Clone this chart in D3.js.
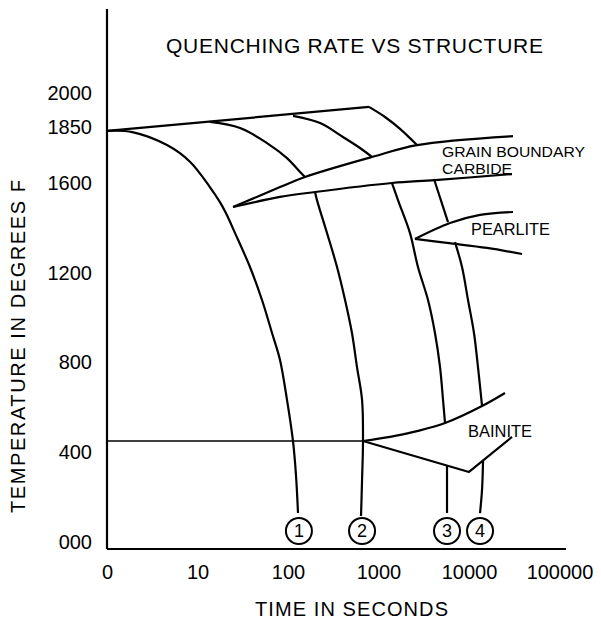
<!DOCTYPE html>
<html>
<head>
<meta charset="utf-8">
<script src="https://cdn.jsdelivr.net/npm/d3@7"></script>
<style>
  html, body { margin: 0; padding: 0; background: #fff; }
  svg { display: block; }
  text { font-family: "Liberation Sans", Arial, sans-serif; fill: #000; }
</style>
</head>
<body>
<div id="chart"></div>
<script>
// ---------- DATA (time in seconds, temperature in °F) ----------
const title = "QUENCHING RATE VS STRUCTURE";
const xTitle = "TIME IN SECONDS";
const yTitle = "TEMPERATURE IN DEGREES F";

const xTicks = [1, 10, 100, 1000, 10000, 100000];
const xTickLabels = ["0", "10", "100", "1000", "10000", "100000"];
const yTicks = [0, 400, 800, 1200, 1600, 1850, 2000];
const yTickLabels = ["000", "400", "800", "1200", "1600", "1850", "2000"];

// heating / austenitizing line
const heatingLine = [[1, 1831], [785, 1938]];

// cooling curve 1
const curve1 = [[1, 1831], [1.9, 1826], [4.6, 1768], [8.3, 1693], [13.7, 1581], [17.7, 1514],
  [20.6, 1465], [26, 1376], [38, 1225], [51.6, 1078], [66.6, 931], [81.6, 811],
  [97.5, 633], [113.5, 450], [122.5, 298], [129, 129]];
// cooling curve 2 (interrupted by grain boundary carbide band)
const curve2a = [[13.7, 1871], [29.5, 1844], [58.6, 1777], [97.5, 1710], [136, 1648], [154, 1626]];
const curve2b = [[199, 1559], [209, 1523], [270, 1376], [348, 1225], [427, 1078], [509, 931],
  [578, 780], [658, 633], [674, 450], [658, 276], [641, 116]];
// cooling curve 3
const curve3a = [[113.5, 1898], [226, 1866], [405, 1804], [625, 1755], [847, 1715]];
const curve3b = [[1410, 1599], [1641, 1523], [2228, 1376], [2729, 1225], [3524, 1078],
  [4207, 931], [4782, 780], [5164, 633], [5433, 530]];
const curve3c = [[5715, 343], [5715, 129]];
// cooling curve 4
const curve4a = [[785, 1938], [1180, 1893], [1730, 1840], [2662, 1768]];
const curve4b = [[4104, 1617], [5861, 1425]];
const curve4c = [[7000, 1336], [8372, 1225], [9750, 1078], [11350, 931], [12560, 780], [13930, 606]];
const curve4d = [[14290, 361], [13930, 232], [13240, 129]];

// transformation regions
const gbUpper = [[24.7, 1492], [81.6, 1581], [154, 1626], [847, 1715], [2662, 1768], [30620, 1808]];
const gbLower = [[24.7, 1492], [81.6, 1537], [199, 1559], [1410, 1599], [4207, 1612], [29860, 1639]];
const pearliteUpper = [[2530, 1350], [6166, 1421], [13240, 1457], [30620, 1470]];
const pearliteLower = [[2530, 1350], [5715, 1332], [15810, 1310], [38550, 1283]];
const msLine = [[1, 450], [674, 450]];
const bainiteUpper = [[674, 450], [1340, 468], [2662, 494], [5433, 530], [13930, 606], [24990, 664]];
const bainiteLower = [[674, 450], [10000, 312], [29860, 468]];

// curve number markers
const markerLabels = ["1", "2", "3", "4"];
const markerTimes = [132, 658, 5715, 13240];
const markerTemp = 49;

// region labels: text, time, temp (left anchor)
const regionText = ["GRAIN BOUNDARY", "CARBIDE", "PEARLITE", "BAINITE"];
const regionTime = [5035, 5035, 10520, 9750];
const regionTemp = [1741, 1662, 1394, 494];

// ---------- DRAW ----------
const W = 601, H = 623;
const svg = d3.select("#chart").append("svg").attr("width", W).attr("height", H);

const x = d3.scaleLog().domain([1, 100000]).range([107, 559.5]);
const y = d3.scaleLinear().domain([0, 2000]).range([542, 93]);
const axisY = 549, axisTop = 9, axisRight = 566;
const LW = 2.2;

// axis lines
svg.append("line").attr("x1", x(1)).attr("x2", x(1)).attr("y1", axisTop).attr("y2", axisY)
  .attr("stroke", "#000").attr("stroke-width", LW);
svg.append("line").attr("x1", x(1)).attr("x2", axisRight).attr("y1", axisY).attr("y2", axisY)
  .attr("stroke", "#000").attr("stroke-width", LW);

// tick labels via axes
const xAxis = d3.axisBottom(x).tickValues(xTicks).tickSize(0).tickPadding(16)
  .tickFormat((d, i) => xTickLabels[i]);
const gx = svg.append("g").attr("transform", `translate(0,${axisY})`).call(xAxis);
gx.select(".domain").remove();
gx.selectAll("text").style("font-size", "20px").style("font-family", "Liberation Sans, Arial, sans-serif");

const yAxis = d3.axisLeft(y).tickValues(yTicks).tickSize(0).tickPadding(15)
  .tickFormat((d, i) => yTickLabels[i]);
const gy = svg.append("g").attr("transform", `translate(${x(1)},0)`).call(yAxis);
gy.select(".domain").remove();
gy.selectAll("text").style("font-size", "20px").style("font-family", "Liberation Sans, Arial, sans-serif");

// lines
const smooth = d3.line().x(d => x(d[0])).y(d => y(d[1])).curve(d3.curveCatmullRom.alpha(0.5));
const straight = d3.line().x(d => x(d[0])).y(d => y(d[1]));

function draw(data, gen, w) {
  svg.append("path").attr("d", gen(data)).attr("fill", "none")
    .attr("stroke", "#000").attr("stroke-width", w || LW).attr("stroke-linejoin", "round");
}
draw(heatingLine, straight);
[curve1, curve2a, curve2b, curve3a, curve3b, curve4a, curve4c].forEach(c => draw(c, smooth));
[curve3c, curve4b, curve4d].forEach(c => draw(c, smooth));
[gbUpper, gbLower, pearliteUpper, pearliteLower, bainiteUpper].forEach(c => draw(c, smooth));
draw(msLine, straight, 1.7);
draw(bainiteLower, straight);

// markers
markerLabels.forEach((lab, i) => {
  svg.append("circle").attr("cx", x(markerTimes[i])).attr("cy", y(markerTemp)).attr("r", 13)
    .attr("fill", "#fff").attr("stroke", "#000").attr("stroke-width", 2);
  svg.append("text").attr("x", x(markerTimes[i])).attr("y", y(markerTemp))
    .attr("text-anchor", "middle").attr("dominant-baseline", "central")
    .style("font-size", "18px").text(lab);
});

// region labels
const regionWidths = [143, 70, 79, 64];
regionText.forEach((t, i) => {
  svg.append("text").attr("x", x(regionTime[i])).attr("y", y(regionTemp[i]))
    .attr("dominant-baseline", "central").style("font-size", i < 2 ? "15px" : "16px")
    .attr("textLength", regionWidths[i]).attr("lengthAdjust", "spacingAndGlyphs").text(t);
});

// titles
svg.append("text").attr("x", 354.5).attr("y", 45).attr("text-anchor", "middle")
  .attr("dominant-baseline", "central").style("font-size", "21px")
  .attr("textLength", 377).attr("lengthAdjust", "spacing").text(title);
svg.append("text").attr("x", 351.5).attr("y", 609).attr("text-anchor", "middle")
  .attr("dominant-baseline", "central").style("font-size", "20px")
  .attr("textLength", 193).attr("lengthAdjust", "spacing").text(xTitle);
svg.append("text").attr("transform", "translate(18,346.5) rotate(-90)")
  .attr("text-anchor", "middle").attr("dominant-baseline", "central").style("font-size", "20px")
  .attr("textLength", 333).attr("lengthAdjust", "spacing").text(yTitle);
</script>
</body>
</html>
